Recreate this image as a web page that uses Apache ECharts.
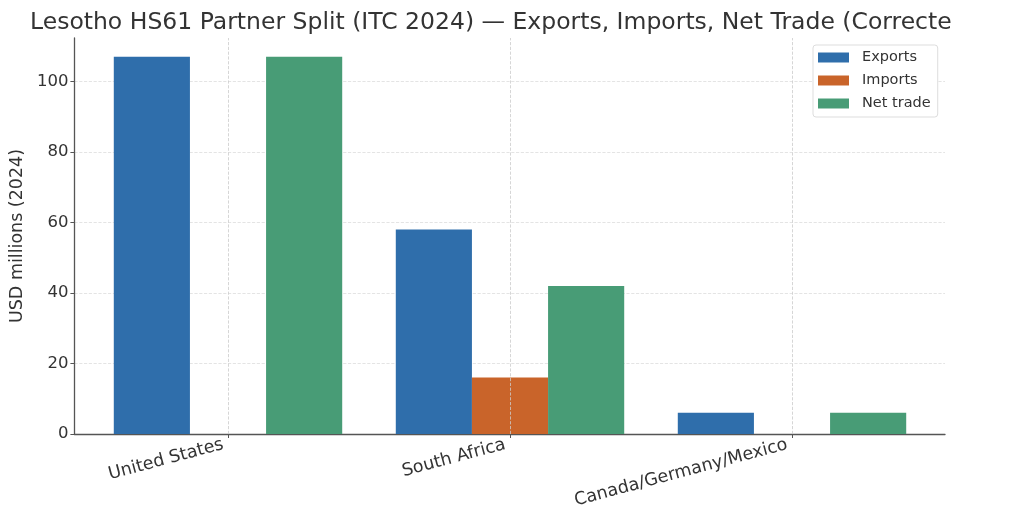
<!DOCTYPE html>
<html><head><meta charset="utf-8">
<script src="https://cdn.jsdelivr.net/npm/echarts@6/dist/echarts.min.js"></script>
<style>html,body{margin:0;padding:0;background:#fff}#c{width:1024px;height:525px}</style>
</head><body><div id="c"></div>
<script>
const categories = ['United States', 'South Africa', 'Canada/Germany/Mexico'];
const exportsData = [107, 58, 6];
const importsData = [0, 16, 0];
const netData = [107, 42, 6];
const yTicks = [0, 20, 40, 60, 80, 100];

const font = 'DejaVu Sans';
const Y_MAX = 112.35;
const chart = echarts.init(document.getElementById('c'), null, {renderer: 'canvas'});
chart.setOption({
  animation: false,
  backgroundColor: '#fff',
  title: {
    text: 'Lesotho HS61 Partner Split (ITC 2024) — Exports, Imports, Net Trade (Corrected)',
    left: 25, top: 6,
    textStyle: {fontFamily: font, fontSize: 23.5, fontWeight: 'normal', color: '#333', width: 935, overflow: 'truncate', ellipsis: ''}
  },
  legend: {
    orient: 'vertical', left: 813, top: 45,
    backgroundColor: '#fff', borderColor: '#ddd', borderWidth: 1, borderRadius: 3,
    padding: [5, 7, 6, 5], itemGap: 8, itemWidth: 31, itemHeight: 10,
    icon: 'rect',
    textStyle: {fontFamily: font, fontSize: 14.5, color: '#333', padding: [0, 0, 0, 8]},
    data: ['Exports', 'Imports', 'Net trade']
  },
  grid: [
    {left: 73, right: 79, top: 38, bottom: 91},
    {left: 87, right: 91, top: 38, bottom: 91}
  ],
  xAxis: [
    {type: 'value', gridIndex: 0, min: 0, max: 1,
     axisLine: {show: true, onZero: false, lineStyle: {color: '#555', width: 1.3}},
     axisTick: {show: false}, axisLabel: {show: false}, splitLine: {show: false}},
    {type: 'category', gridIndex: 1, data: categories,
     axisLine: {show: false},
     axisTick: {show: true, alignWithLabel: true, length: 4, lineStyle: {color: '#555'}},
     axisLabel: {rotate: 15, fontFamily: font, fontSize: 17.5, color: '#333', margin: 9, padding: [0, 5, 0, 0]},
     splitLine: {show: false}}
  ],
  yAxis: [
    {type: 'value', gridIndex: 0, min: 0, max: Y_MAX, interval: 20,
     name: 'USD millions (2024)', nameLocation: 'middle', nameGap: 45,
     nameTextStyle: {fontFamily: font, fontSize: 17.5, color: '#333'},
     axisLine: {show: true, onZero: false, lineStyle: {color: '#555', width: 1.3}},
     axisTick: {show: true, length: 4, lineStyle: {color: '#555'}},
     axisLabel: {fontFamily: font, fontSize: 16.5, color: '#333', margin: 6, showMaxLabel: false,
       formatter: v => (yTicks.includes(v) ? String(v) : '')},
     splitLine: {show: true, showMaxLine: false, showMinLine: false, lineStyle: {color: '#ddd', type: 'dashed', width: 0.8}}},
    {type: 'value', gridIndex: 1, min: 0, max: Y_MAX, show: false, splitLine: {show: false}}
  ],
  series: [
    {name: 'grid-v', type: 'line', xAxisIndex: 1, yAxisIndex: 1, data: [], z: 1,
     markLine: {silent: true, symbol: 'none', label: {show: false},
       lineStyle: {color: '#ccc', type: 'dashed', width: 0.8},
       data: categories.map(c => ({xAxis: c}))}},
    {name: 'Exports', type: 'bar', xAxisIndex: 1, yAxisIndex: 1, data: exportsData,
     barGap: '0%', barCategoryGap: '19%', z: 3, itemStyle: {color: '#2F6EAB'}},
    {name: 'Imports', type: 'bar', xAxisIndex: 1, yAxisIndex: 1, data: importsData, z: 3, itemStyle: {color: '#C9642A'}},
    {name: 'Net trade', type: 'bar', xAxisIndex: 1, yAxisIndex: 1, data: netData, z: 3, itemStyle: {color: '#489C76'}}
  ]
});
</script></body></html>
